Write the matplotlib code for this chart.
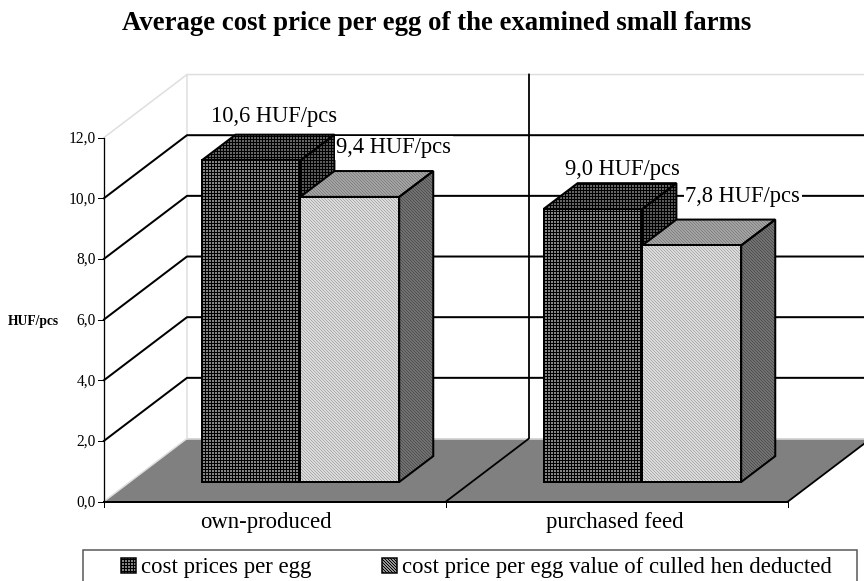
import matplotlib
matplotlib.use('Agg')
import matplotlib.pyplot as plt
from matplotlib.patches import Polygon, Patch, Rectangle

plt.rcParams['font.family'] = ['Liberation Serif', 'DejaVu Serif']
plt.rcParams['hatch.linewidth'] = 1.3

# chart data
categories = ['own-produced', 'purchased feed']
series_names = ['cost prices per egg', 'cost price per egg value of culled hen deducted']
own_cost = [10.6, 9.0]
net_cost = [9.4, 7.8]
own_labels = ['10,6 HUF/pcs', '9,0 HUF/pcs']
net_labels = ['9,4 HUF/pcs', '7,8 HUF/pcs']
y_ticks = [0, 2, 4, 6, 8, 10, 12]
y_tick_labels = ['0,0', '2,0', '4,0', '6,0', '8,0', '10,0', '12,0']

W, H = 864, 581
DPI = 72
X0, Y0 = 104, 501.5         # pixel position of the chart origin
CAT_PX = 342.0              # width of one category
VAL_PX = 30.33              # height of one y unit
DEPTH_X = 83 / CAT_PX       # oblique offset of the back wall, data units
DEPTH_Y = 63 / VAL_PX

# depth range and widths of the bars
BAR_D0, BAR_D1 = 0.31, 0.72
BAR_LEFT = 0.21
BAR_W = 0.289

CROSS = '++++'
DIAG = '\\' * 8


def proj(x, y, d=0.0):
    """Oblique projection of (category, value, depth) to axes data coords."""
    return (x + d * DEPTH_X, y + d * DEPTH_Y)


def bar_face(ax, pts, face, hatch_col, hatch, z):
    ax.add_patch(Polygon(pts, closed=True, facecolor=face, edgecolor=hatch_col,
                         hatch=hatch, linewidth=0, zorder=z))
    ax.add_patch(Polygon(pts, closed=True, fill=False, edgecolor='black',
                         linewidth=2, joinstyle='miter', zorder=z + 0.1))


def draw_bar(ax, left, width, height, styles, z):
    front = [proj(left, 0, BAR_D0), proj(left + width, 0, BAR_D0),
             proj(left + width, height, BAR_D0), proj(left, height, BAR_D0)]
    top = [proj(left, height, BAR_D0), proj(left + width, height, BAR_D0),
           proj(left + width, height, BAR_D1), proj(left, height, BAR_D1)]
    side = [proj(left + width, 0, BAR_D0), proj(left + width, 0, BAR_D1),
            proj(left + width, height, BAR_D1), proj(left + width, height, BAR_D0)]
    bar_face(ax, side, *styles['side'], z)
    bar_face(ax, top, *styles['top'], z)
    bar_face(ax, front, *styles['front'], z + 0.2)


dark_style = {
    'front': ('#bcbcbc', 'black', CROSS),
    'top': ('#909090', 'black', CROSS),
    'side': ('#808080', 'black', CROSS),
}
light_style = {
    'front': ('white', '#ababab', DIAG),
    'top': ('#bdbdbd', '#808080', DIAG),
    'side': ('#8a8a8a', '#505050', DIAG),
}

fig = plt.figure(figsize=(W / DPI, H / DPI), dpi=DPI)
ax = fig.add_axes([0, 0, 1, 1])
ax.set_xlim(-X0 / CAT_PX, (W - X0) / CAT_PX)
ax.set_ylim(-(H - Y0) / VAL_PX, Y0 / VAL_PX)
ax.axis('off')

x_max = 2.0
y_max = y_ticks[-1]

# floor
ax.add_patch(Polygon([proj(0, 0), proj(x_max, 0), proj(x_max, 0, 1), proj(0, 0, 1)],
                     closed=True, facecolor='#808080', edgecolor='none', zorder=1))

# light wall outline
wall = '#dedede'
ax.plot(*zip(proj(0, y_max), proj(0, y_max, 1), proj(x_max, y_max, 1)), color=wall, lw=1.5, zorder=1)
ax.plot(*zip(proj(0, 0, 1), proj(0, y_max, 1)), color=wall, lw=1.5, zorder=1)
ax.plot(*zip(proj(0, 0), proj(0, 0, 1)), color=wall, lw=1.5, zorder=1)
ax.plot(*zip(proj(0, 0, 1), proj(x_max, 0, 1)), color=wall, lw=1.5, zorder=1)

# gridlines run up the side wall and across the back wall
for t in y_ticks[1:-1]:
    ax.plot(*zip(proj(0, t), proj(0, t, 1), proj(x_max, t, 1)), color='black', lw=2, zorder=2)

# category divider on floor and back wall
ax.plot(*zip(proj(1, 0), proj(1, 0, 1), proj(1, y_max, 1)), color='black', lw=1.8, zorder=2)

# front axes
ax.plot(*zip(proj(0, 0), proj(x_max, 0)), color='black', lw=2, zorder=3)
ax.plot(*zip(proj(x_max, 0), proj(x_max, 0, 1)), color='black', lw=1.8, zorder=2)
ax.plot(*zip(proj(0, 0), proj(0, y_max)), color='black', lw=1.3, zorder=3)

tick_dx = 6 / CAT_PX
for t, lab in zip(y_ticks, y_tick_labels):
    ax.plot([-tick_dx, 0], [t, t], color='black', lw=1, zorder=3)
    ax.annotate(lab, xy=(0, t), xytext=(-8, -1), textcoords='offset points',
                ha='right', va='center', fontsize=15.5)
for i in range(3):
    ax.plot([i, i], [0, -5 / VAL_PX], color='black', lw=1, zorder=3)

ax.annotate('HUF/pcs', xy=(0, 6), xytext=(-71, -2), textcoords='offset points',
            fontsize=13.5, fontweight='bold', ha='center', va='center')

# bars
for i in range(len(categories)):
    draw_bar(ax, i + BAR_LEFT, BAR_W, own_cost[i], dark_style, 5)
    draw_bar(ax, i + BAR_LEFT + BAR_W, BAR_W, net_cost[i], light_style, 6)

# value labels, placed relative to the top-left front corner of each bar
own_offsets = [(9, 44), (21, 40)]
net_offsets = [(36, 49), (43, 49)]
for i in range(len(categories)):
    ax.annotate(own_labels[i], xy=proj(i + BAR_LEFT, own_cost[i], BAR_D0), xytext=own_offsets[i],
                textcoords='offset points', ha='left', va='center', fontsize=22.5, zorder=9)
    ax.annotate(net_labels[i], xy=proj(i + BAR_LEFT + BAR_W, net_cost[i], BAR_D0), xytext=net_offsets[i],
                textcoords='offset points', ha='left', va='center', fontsize=22.5, zorder=9,
                bbox=dict(facecolor='white', edgecolor='none', pad=1.5))

# category labels
label_shift = [-9, -2]
for i, c in enumerate(categories):
    ax.annotate(c, xy=(i + 0.5, 0), xytext=(label_shift[i], -21), textcoords='offset points',
                ha='center', va='center', fontsize=22.7)

fig.suptitle('Average cost price per egg of the examined small farms', x=437 / W, y=1 - 24 / H,
             ha='center', va='center', fontsize=26.8, fontweight='bold')

# legend box runs off the bottom of the figure
fig.add_artist(Rectangle((83 / W, -0.02), 774 / W, 31 / H + 0.02, transform=fig.transFigure,
                         fill=False, edgecolor='#555555', linewidth=1.5))
handles = [Patch(facecolor='#bcbcbc', edgecolor='black', hatch=CROSS, linewidth=1.5),
           Patch(facecolor='white', edgecolor='black', hatch=DIAG, linewidth=1.5)]
leg = ax.legend(handles, series_names, ncol=2, loc='center left',
                bbox_to_anchor=(121 / W, 1 - 568 / H), bbox_transform=fig.transFigure,
                fontsize=22.7, frameon=False, borderaxespad=0, borderpad=0,
                handlelength=0.66, handleheight=0.62, handletextpad=0.22, columnspacing=3.13)

fig.savefig('out.png', dpi=DPI)
